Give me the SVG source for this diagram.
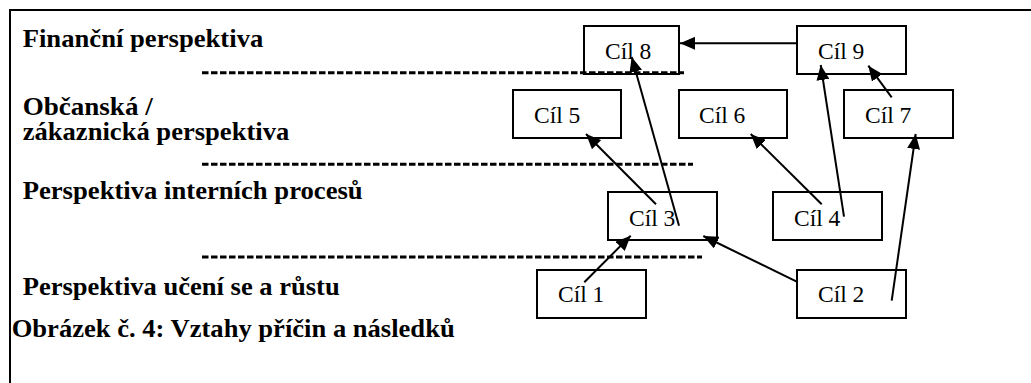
<svg xmlns="http://www.w3.org/2000/svg" width="1031" height="383" viewBox="0 0 1031 383">
<style>
.frame{stroke:#000;stroke-width:2;fill:none}
.lbl{font-weight:bold;font-size:25px;fill:#000}
.box rect{fill:#fff;stroke:#000;stroke-width:2}
.box text{font-size:23.5px;fill:#000}
.dash{stroke:#000;stroke-width:3;stroke-dasharray:6.5 2.5;fill:none}
.conn line{stroke:#000;stroke-width:2}
</style>
<defs>
<marker id="ah" markerUnits="userSpaceOnUse" markerWidth="15" markerHeight="13" refX="15" refY="6.5" orient="auto">
<path d="M0,0 L15,6.5 L0,13 z" fill="#000"/>
</marker>
</defs>
<rect width="1031" height="383" fill="#fff"/>
<path class="frame" d="M10,383 V10 H1031"/>
<g id="labels" font-family="Liberation Serif, Times New Roman, DejaVu Serif, serif">
<text class="lbl" x="22.7" y="47" textLength="240.6" lengthAdjust="spacingAndGlyphs">Finanční perspektiva</text>
<text class="lbl" x="22.7" y="115" textLength="130" lengthAdjust="spacingAndGlyphs">Občanská /</text>
<text class="lbl" x="22.7" y="140" textLength="266.6" lengthAdjust="spacingAndGlyphs">zákaznická perspektiva</text>
<text class="lbl" x="22.7" y="199" textLength="340" lengthAdjust="spacingAndGlyphs">Perspektiva interních procesů</text>
<text class="lbl" x="22.7" y="295" textLength="317" lengthAdjust="spacingAndGlyphs">Perspektiva učení se a růstu</text>
<text class="lbl" x="11.7" y="337" textLength="443" lengthAdjust="spacingAndGlyphs">Obrázek č. 4: Vztahy příčin a následků</text>
</g>
<g id="nodes" font-family="Liberation Serif, Times New Roman, DejaVu Serif, serif">
<g id="node-cil8" class="box"><rect x="584" y="26" width="95" height="48"/><text x="605" y="59">Cíl 8</text></g>
<g id="node-cil9" class="box"><rect x="797" y="26" width="109" height="48"/><text x="818" y="59">Cíl 9</text></g>
<g id="node-cil5" class="box"><rect x="513" y="90" width="108" height="48"/><text x="534" y="123">Cíl 5</text></g>
<g id="node-cil6" class="box"><rect x="679" y="90" width="108" height="48"/><text x="699" y="123">Cíl 6</text></g>
<g id="node-cil7" class="box"><rect x="844" y="90" width="109" height="48"/><text x="865" y="123">Cíl 7</text></g>
<g id="node-cil3" class="box"><rect x="608" y="192" width="109" height="48"/><text x="629" y="226">Cíl 3</text></g>
<g id="node-cil4" class="box"><rect x="773" y="192" width="109" height="48"/><text x="794" y="226">Cíl 4</text></g>
<g id="node-cil1" class="box"><rect x="537" y="270" width="109" height="48"/><text x="558" y="302">Cíl 1</text></g>
<g id="node-cil2" class="box"><rect x="797" y="270" width="109" height="48"/><text x="818" y="302">Cíl 2</text></g>
</g>
<g id="separators">
<line class="dash" x1="202" y1="72.7" x2="684" y2="72.7"/>
<line class="dash" x1="202" y1="164.3" x2="693" y2="164.3"/>
<line class="dash" x1="202" y1="257" x2="702" y2="257"/>
</g>
<g id="connectors" class="conn">
<line x1="797" y1="43.3" x2="680" y2="43.3" marker-end="url(#ah)"/>
<line x1="679" y1="225.7" x2="631.7" y2="57" marker-end="url(#ah)"/>
<line x1="656" y1="204.3" x2="586" y2="134" marker-end="url(#ah)"/>
<line x1="821.7" y1="204.3" x2="750.7" y2="134" marker-end="url(#ah)"/>
<line x1="844" y1="216.7" x2="820.7" y2="65" marker-end="url(#ah)"/>
<line x1="891.7" y1="97.3" x2="868.3" y2="65.7" marker-end="url(#ah)"/>
<line x1="891.7" y1="300.7" x2="915.7" y2="134" marker-end="url(#ah)"/>
<line x1="796.7" y1="281.7" x2="703.3" y2="236" marker-end="url(#ah)"/>
<line x1="584.3" y1="282.3" x2="630.7" y2="235.7" marker-end="url(#ah)"/>
</g>
</svg>
